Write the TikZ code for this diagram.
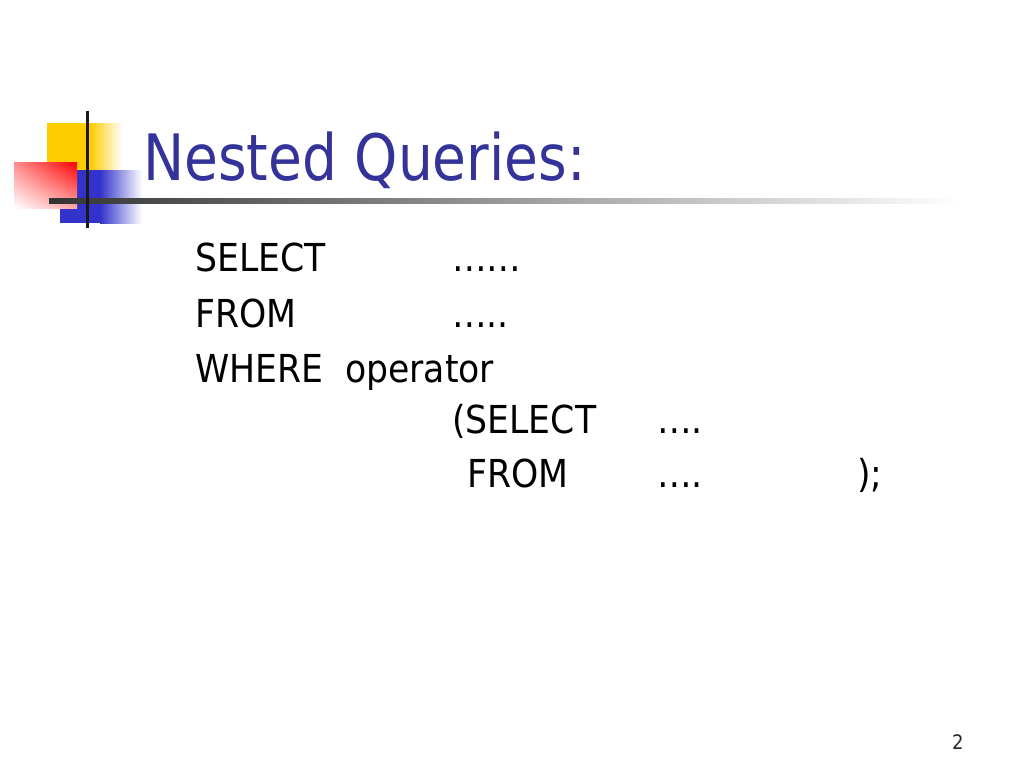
\documentclass[tikz,border=0pt]{standalone}
\usepackage{fontspec}
\usetikzlibrary{shadings}
\setmainfont{DejaVu Sans}[FakeStretch=0.9]
\newfontfamily\headfont{DejaVu Sans}[FakeStretch=0.86]
\definecolor{titleblue}{HTML}{333399}
\definecolor{logoyellow}{HTML}{FFCC00}
\definecolor{logoblue}{HTML}{3333CC}
\definecolor{logored}{HTML}{FF0000}

\begin{document}
\begin{tikzpicture}[x=1pt,y=-1pt,
    sql/.style={anchor=base west,inner sep=0pt,font=\fontsize{38.5}{40}\selectfont}]
    \useasboundingbox[fill=white] (0,0) rectangle (1024,768);

    % logo squares
    \fill[logoyellow] (47,123) rectangle (90,172);
    \shade[left color=logoyellow,right color=white] (90,123) rectangle (122,172);
    \fill[logoblue] (60,170) rectangle (100,223);
    \shade[left color=logoblue,right color=white] (100,170) rectangle (142,223);
    \shade[upper right=logored,upper left=logored!45,lower left=white,lower right=logored!35] (14,162) rectangle (77,208);

    % rules
    \shade[left color=black!80,right color=white] (49,198.5) rectangle (960,203.5);
    \draw[line width=3pt,black!90] (87,111) -- (87,228);

    \node[anchor=base west,inner sep=0pt,text=titleblue,font=\headfont\fontsize{64}{70}\selectfont] (title) at (143,180) {Nested Queries:};

    % outer query
    \node[sql] (sel) at (195,271) {SELECT};
    \node[sql] (seldots) at (452,271) {……};
    \node[sql] (from) at (195,327) {FROM};
    \node[sql] (fromdots) at (452,327) {…..};
    \node[sql] (where) at (195,382) {WHERE};
    \node[sql] (op) at (345,382) {operator};

    % inner query
    \node[sql] (insel) at (452,433) {(SELECT};
    \node[sql] (inseldots) at (657,433) {….};
    \node[sql] (infrom) at (467,487) {FROM};
    \node[sql] (infromdots) at (657,487) {….};
    \node[sql] (close) at (857,487) {);};

    \node[anchor=base west,inner sep=0pt,font=\fontsize{20}{22}\selectfont,text=black!85] (page) at (952,749) {2};
\end{tikzpicture}
\end{document}
